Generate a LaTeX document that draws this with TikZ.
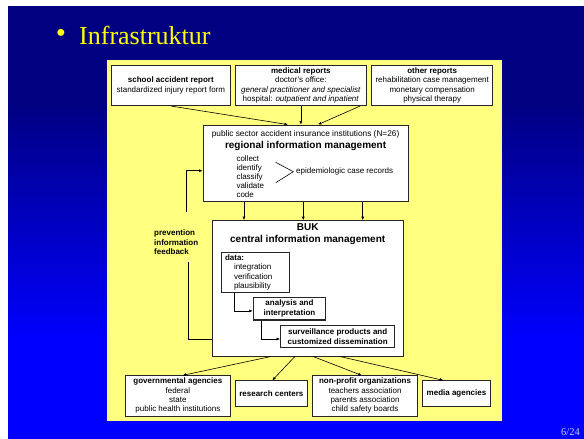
\documentclass[tikz,border=0pt]{standalone}
\usepackage{fontspec}
\setmainfont{Liberation Serif}
\setsansfont{Liberation Sans}
\usepackage{tikz}
\usetikzlibrary{arrows.meta,calc,positioning}
\usepackage{xcolor}
\definecolor{Navy}{RGB}{0,0,128}
\definecolor{Bleu}{RGB}{0,0,255}
\definecolor{Panel}{RGB}{255,255,128}
\definecolor{Titre}{RGB}{255,255,0}

\begin{document}
\begin{tikzpicture}[x=1pt,y=-1pt,
  box/.style={draw=black!85,fill=white,line width=0.7pt,inner sep=0pt,align=center,font=\sffamily\fontsize{8}{9.3}\selectfont},
  boldbox/.style={box,line width=1.1pt,font=\sffamily\bfseries\fontsize{8}{10}\selectfont},
  txt/.style={inner sep=0pt,font=\sffamily\fontsize{8}{9.2}\selectfont},
  arr/.style={-{Latex[length=3.5pt,width=3pt]},line width=0.6pt},
  ln/.style={line width=0.6pt}]
\useasboundingbox (0,0) rectangle (584,439);
\fill[white] (0,0) rectangle (584,439);
\fill[Navy] (8,6) rectangle (584,100);
\shade[top color=Navy,bottom color=Bleu] (8,99.5) rectangle (584,340.5);
\fill[Bleu] (8,340) rectangle (584,439);
\fill[Panel] (107,60) rectangle (502,421);
%
\node (bullet) at (61,35.5) [inner sep=0pt,text=Titre,font=\fontsize{29}{29}\selectfont] {\textbullet};
\node (title) at (79,44) [anchor=base west,inner sep=0pt,text=Titre,font=\fontsize{26}{26}\selectfont] {Infrastruktur};
%
% reports
\node (school) at (170.85,85.3) [box,minimum width=118.3pt,minimum height=40.7pt] {\textbf{school accident report}\\standardized injury report form};
\node (medical) at (300.85,85.3) [box,minimum width=131.7pt,minimum height=40.7pt] {\textbf{medical reports}\\doctor's office:\\\textit{general practitioner and specialist}\\hospital: \textit{outpatient and inpatient}};
\node (other) at (432.2,85.3) [box,minimum width=121pt,minimum height=40.7pt] {\textbf{other reports}\\rehabilitation case management\\monetary compensation\\physical therapy};
%
% regional
\node (reg) at (305.6,163.3) [box,minimum width=205.3pt,minimum height=76.7pt] {};
\node (regsector) at (305.6,134) [txt,font=\sffamily\fontsize{8.3}{10}\selectfont] {public sector accident insurance institutions (N=26)};
\node (regtitle) at (305.6,145.7) [txt,font=\sffamily\bfseries\fontsize{10}{12}\selectfont] {regional information management};
\node (regsteps) at (236.3,176.7) [txt,anchor=west,align=left] {collect\\identify\\classify\\validate\\code};
\draw[ln] (275.7,162.3) -- (293.3,171.7) -- (275.7,182.7);
\node (records) at (296,171.7) [txt,anchor=west] {epidemiologic case records};
%
% central
\node (buk) at (307.65,288.25) [box,minimum width=191.3pt,minimum height=135.5pt] {};
\node (buktitle) at (307.7,234.3) [txt,align=center,font=\sffamily\bfseries\fontsize{10}{12}\selectfont] {BUK\\central information management};
\node (data) at (255.15,272.3) [box,align=left,text width=60.3pt,inner xsep=4pt,inner ysep=1pt,minimum height=40pt] {\textbf{data:}\\\hspace*{9pt}integration\\\hspace*{9pt}verification\\\hspace*{9pt}plausibility};
\node (ana) at (289.5,308.85) [boldbox,minimum width=72.4pt,minimum height=22.3pt] {analysis and\\interpretation};
\node (surv) at (337.7,336.5) [boldbox,minimum width=114pt,minimum height=21.6pt] {surveillance products and\\customized dissemination};
%
% users
\node (gov) at (177.85,395.85) [box,minimum width=104.3pt,minimum height=40.3pt] {\textbf{governmental agencies}\\federal\\state\\public health institutions};
\node (research) at (271.35,393.7) [box,minimum width=72.7pt,minimum height=26pt,font=\sffamily\bfseries\fontsize{8}{9.3}\selectfont] {research centers};
\node (nonprofit) at (365,395.85) [box,minimum width=104.6pt,minimum height=40.3pt] {\textbf{non-profit organizations}\\teachers association\\parents association\\child safety boards};
\node (media) at (456.5,393.7) [box,minimum width=68.4pt,minimum height=26pt,font=\sffamily\bfseries\fontsize{8}{9.3}\selectfont] {media agencies};
%
\node (feedback) at (154,242.5) [txt,anchor=west,align=left,font=\sffamily\bfseries\fontsize{8}{9.4}\selectfont] {prevention\\information\\feedback};
\coordinate (fbLow) at (188,262);
\coordinate (fbHigh) at (186,212);
\coordinate (fbTurn) at (186,170.7);
\coordinate (fbFoot) at (188,339);
%
\node (page) at (570.5,432) [inner sep=0pt,text=white!80!Bleu,font=\fontsize{10.5}{12}\selectfont] {6/24};
%
% connectors
\draw[arr] (school.south) -- ($(reg.north)+(-17.6,0)$);
\draw[arr] (medical.south) -- (medical.south |- reg.north);
\draw[arr] ($(other.south)+(-72,0)$) -- ($(reg.north)+(12.4,0)$);
\foreach \dx in {-61.6,-2.3,57.1} {
  \path ($(reg.south)+(\dx,0)$) coordinate (regout);
  \draw[arr] (regout) -- (regout |- buk.north);
}
\draw[arr] ($(data.south west)+(14,0)$) |- ([yshift=-2pt]ana.west);
\draw[arr] ($(ana.south west)+(9,0)$) |- ([yshift=-2.5pt]surv.west);
\draw[arr] ($(buk.south)+(-36,0)$) -- ($(gov.north)+(4.85,0)$);
\draw[arr] ($(buk.south)+(-12.65,0)$) -- ($(research.north)+(1,0)$);
\draw[arr] ($(buk.south)+(5,0)$) -- ($(nonprofit.north)+(-3.3,0)$);
\draw[arr] ($(buk.south)+(31.7,0)$) -- ($(media.north)+(-13.2,0)$);
\draw[ln] (buk.west |- fbFoot) -| (fbLow);
\draw[arr] (fbHigh) |- (reg.west |- fbTurn);
\end{tikzpicture}
\end{document}
